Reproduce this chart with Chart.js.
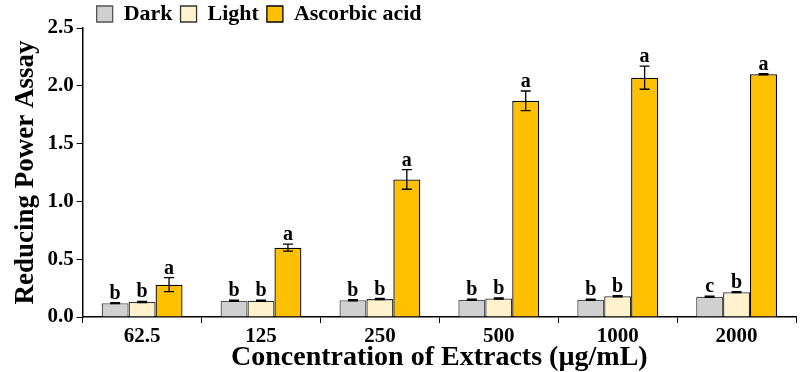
<!DOCTYPE html>
<html>
<head>
<meta charset="utf-8">
<script src="https://cdn.jsdelivr.net/npm/chart.js@4"></script>
<style>
  body { margin: 0; background: #fff; }
  #wrap { width: 800px; height: 372px; }
</style>
</head>
<body>
<div id="wrap"><canvas id="reducing_power_plot" width="800" height="372"></canvas></div>
<script>
'use strict';

var concentrations = ['62.5', '125', '250', '500', '1000', '2000'];
var darkValues = [0.12, 0.14, 0.145, 0.15, 0.15, 0.175];
var lightValues = [0.13, 0.14, 0.155, 0.16, 0.18, 0.215];
var ascorbicValues = [0.28, 0.60, 1.19, 1.87, 2.07, 2.10];
var darkErrors = [0.005, 0.005, 0.005, 0.005, 0.005, 0.005];
var lightErrors = [0.005, 0.005, 0.005, 0.005, 0.005, 0.005];
var ascorbicErrors = [0.06, 0.03, 0.085, 0.085, 0.10, 0.005];
var darkLetters = ['b', 'b', 'b', 'b', 'b', 'c'];
var lightLetters = ['b', 'b', 'b', 'b', 'b', 'b'];
var ascorbicLetters = ['a', 'a', 'a', 'a', 'a', 'a'];

var FONT = '"Liberation Serif", "Times New Roman", serif';

// error bars + significance letters, placed with the chart's own scales
var errorBarPlugin = {
    id: 'errorBars',
    afterLayout: function (chart) {
        // legend sits a bit right of the axis and tight to the top edge
        chart.legend.left += 6;
        chart.legend.right += 6;
        chart.legend.top += 7;
        chart.legend.bottom += 7;
    },
    afterDatasetsDraw: function (chart) {
        var ctx = chart.ctx;
        var yScale = chart.scales.y;
        ctx.save();
        chart.data.datasets.forEach(function (ds, i) {
            var meta = chart.getDatasetMeta(i);
            meta.data.forEach(function (bar, j) {
                var v = ds.data[j];
                var e = ds.errors[j];
                var top = yScale.getPixelForValue(v + e);
                var bot = yScale.getPixelForValue(v - e);
                var x = bar.x;
                ctx.strokeStyle = '#000';
                ctx.lineWidth = 1.3;
                ctx.beginPath();
                ctx.moveTo(x, top); ctx.lineTo(x, bot);
                ctx.moveTo(x - 5, top); ctx.lineTo(x + 5, top);
                ctx.moveTo(x - 5, bot); ctx.lineTo(x + 5, bot);
                ctx.stroke();
                ctx.fillStyle = '#000';
                ctx.font = 'bold 20px ' + FONT;
                ctx.textAlign = 'center';
                ctx.textBaseline = 'alphabetic';
                ctx.fillText(ds.letters[j], x, top - 4);
            });
        });
        ctx.restore();
    }
};

var ctx = document.getElementById('reducing_power_plot').getContext('2d');
new Chart(ctx, {
    type: 'bar',
    data: {
        labels: concentrations,
        datasets: [{
            label: 'Dark',
            data: darkValues,
            errors: darkErrors,
            letters: darkLetters,
            backgroundColor: '#d0d0d0',
            borderColor: '#555',
            borderWidth: 1.3
        }, {
            label: 'Light',
            data: lightValues,
            errors: lightErrors,
            letters: lightLetters,
            backgroundColor: '#fff2cc',
            borderColor: '#333',
            borderWidth: 1.3
        }, {
            label: 'Ascorbic acid',
            data: ascorbicValues,
            errors: ascorbicErrors,
            letters: ascorbicLetters,
            backgroundColor: '#ffc000',
            borderColor: '#000',
            borderWidth: 1.3
        }]
    },
    options: {
        responsive: false,
        animation: false,
        categoryPercentage: 0.68,
        barPercentage: 1.0,
        layout: {
            padding: { left: 10, right: 4, top: -12, bottom: 0 }
        },
        plugins: {
            legend: {
                display: true,
                position: 'top',
                align: 'start',
                fullSize: false,
                labels: {
                    boxWidth: 16,
                    boxHeight: 16,
                    padding: 8,
                    color: '#000',
                    font: { family: FONT, size: 22, weight: 'bold' }
                }
            },
            tooltip: { enabled: false }
        },
        scales: {
            x: {
                grid: {
                    display: true,
                    drawOnChartArea: false,
                    drawTicks: true,
                    tickLength: 6,
                    color: '#000',
                    lineWidth: 1
                },
                border: { color: '#000', width: 1.5 },
                ticks: {
                    color: '#000',
                    padding: 3,
                    font: { family: FONT, size: 21, weight: 'bold', lineHeight: 1.0 }
                },
                title: {
                    display: true,
                    text: 'Concentration of Extracts (\u00b5g/mL)',
                    color: '#000',
                    padding: { top: -6, bottom: 0 },
                    font: { family: FONT, size: 28, weight: 'bold', lineHeight: 1.0 }
                }
            },
            y: {
                min: 0,
                max: 2.5,
                ticks: {
                    stepSize: 0.5,
                    color: '#000',
                    padding: 3,
                    font: { family: FONT, size: 21, weight: 'bold' },
                    callback: function (v) { return v.toFixed(1); }
                },
                grid: {
                    display: true,
                    drawOnChartArea: false,
                    drawTicks: true,
                    tickLength: 6,
                    color: '#000'
                },
                border: { color: '#000', width: 1.5 },
                title: {
                    display: true,
                    text: 'Reducing Power Assay',
                    color: '#000',
                    padding: { top: 0, bottom: 2 },
                    font: { family: FONT, size: 27, weight: 'bold' }
                }
            }
        }
    },
    plugins: [errorBarPlugin]
});
</script>
</body>
</html>
